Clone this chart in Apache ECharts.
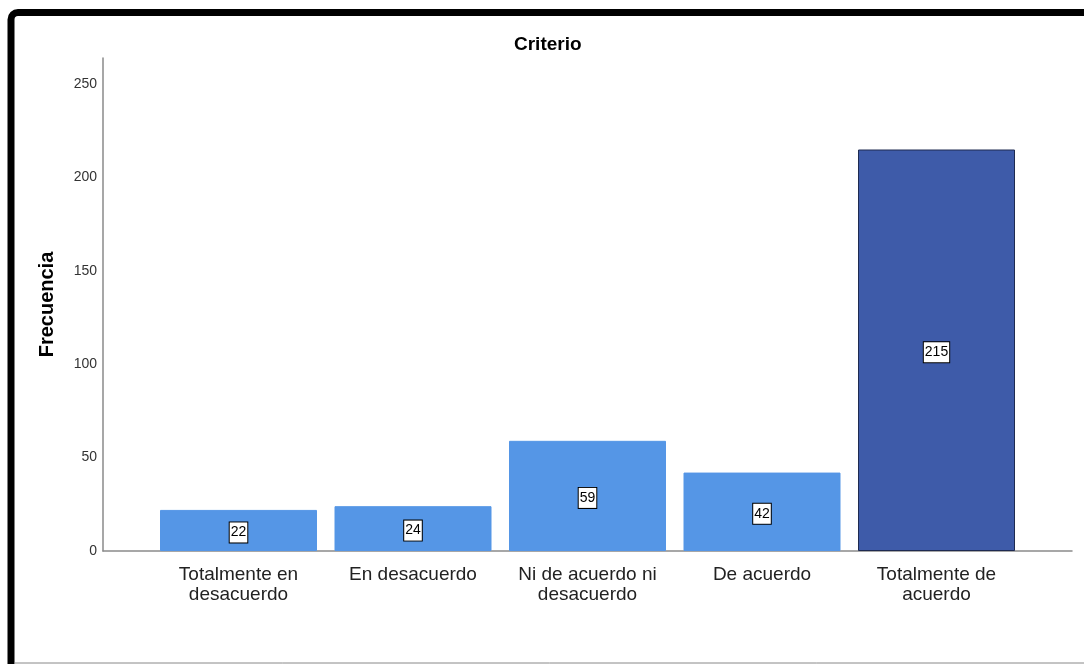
<!DOCTYPE html>
<html>
<head>
<meta charset="utf-8">
<script src="https://cdn.jsdelivr.net/npm/echarts@6/dist/echarts.min.js"></script>
<style>html,body{margin:0;padding:0;background:#fff;}#c{width:1084px;height:664px;}</style>
</head>
<body>
<div id="c"></div>
<script>
var categories = ['Totalmente en\ndesacuerdo', 'En desacuerdo', 'Ni de acuerdo ni\ndesacuerdo', 'De acuerdo', 'Totalmente de\nacuerdo'];
var values = [22, 24, 59, 42, 215];
var barColors = ['#5596E6', '#5596E6', '#5596E6', '#5596E6', '#3E5BA9'];
var barBorders = ['#5596E6', '#5596E6', '#5596E6', '#5596E6', '#1E2A50'];
var chartTitle = 'Criterio';
var yName = 'Frecuencia';

var chart = echarts.init(document.getElementById('c'), null, {renderer: 'canvas'});
var FONT = 'Liberation Sans, Arial, sans-serif';
var option = {
  animation: false,
  backgroundColor: '#ffffff',
  title: {
    text: chartTitle, left: 509, top: 30,
    textStyle: {fontFamily: FONT, fontWeight: 'bold', fontSize: 19, color: '#000'}
  },
  graphic: [
    {type: 'rect', shape: {x: 11, y: 12.5, width: 1200, height: 800, r: 7}, style: {fill: 'none', stroke: '#000', lineWidth: 7}, z: 100},
    {type: 'line', shape: {x1: 15, y1: 663, x2: 1084, y2: 663}, style: {stroke: '#888', lineWidth: 1}, z: 100}
  ],
  grid: [
    {left: 103, right: 12, top: 58, bottom: 113},
    {left: 151.25, width: 872.5, top: 58, bottom: 113}
  ],
  xAxis: [
    {gridIndex: 0, type: 'value', min: 0, max: 1, axisLine: {show: true, onZero: false, lineStyle: {color: '#8a8a8a', width: 1.5}}, axisTick: {show: false}, axisLabel: {show: false}, splitLine: {show: false}},
    {gridIndex: 1, type: 'category', data: categories, axisLine: {show: false}, axisTick: {show: false}, splitLine: {show: false},
     axisLabel: {fontFamily: FONT, fontSize: 19, color: '#222', lineHeight: 20, margin: 14, interval: 0}}
  ],
  yAxis: [
    {gridIndex: 0, type: 'value', min: 0, max: 264, interval: 50, name: yName, nameLocation: 'middle', nameGap: 46,
     nameTextStyle: {fontFamily: FONT, fontWeight: 'bold', fontSize: 20, color: '#000'},
     axisLine: {show: true, lineStyle: {color: '#8a8a8a', width: 1.5}}, axisTick: {show: false}, splitLine: {show: false},
     axisLabel: {fontFamily: FONT, fontSize: 14, color: '#333', margin: 6, showMaxLabel: false,
       formatter: function (v) { return v % 50 === 0 ? String(v) : ''; }}},
    {gridIndex: 1, type: 'value', min: 0, max: 264, show: false}
  ],
  series: [{
    type: 'bar', xAxisIndex: 1, yAxisIndex: 1, barWidth: 157,
    data: values.map(function (v, i) {
      return {value: v, itemStyle: {color: barColors[i], borderColor: barBorders[i], borderWidth: 1}};
    }),
    label: {
      show: true, position: 'inside', fontFamily: FONT, fontSize: 14, color: '#000',
      backgroundColor: '#fff', borderColor: '#000', borderWidth: 1, padding: [4, 1, 2, 1], offset: [0, 2]
    }
  }]
};
chart.setOption(option);
</script>
</body>
</html>
